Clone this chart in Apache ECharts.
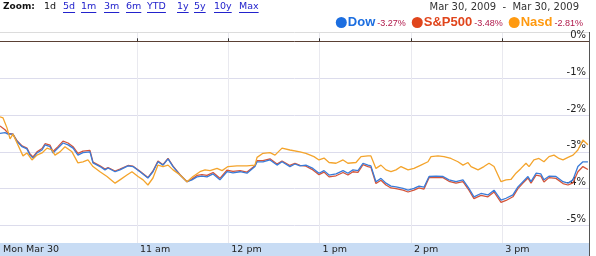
<!DOCTYPE html>
<html><head><meta charset="utf-8">
<script src="https://cdn.jsdelivr.net/npm/echarts@6/dist/echarts.min.js"></script>
<style>html,body{margin:0;padding:0;background:#fff}#c{width:596px;height:256px}</style>
</head><body><div id="c"></div>
<script>
// minutes since 9:30 open
const times = [0,3.3,5.3,8.5,11.2,14.5,17.7,19.7,21.7,24.3,27.6,29.6,32.9,34.8,38.1,41.4,44.7,48,51.2,54.5,59.1,61.1,65.7,69,71,75.6,78.8,84.1,87.4,92,97.2,100.5,103.8,107.1,110.4,113.7,118.3,122.9,126.1,129.4,132.7,136,140,144.5,149.1,153.1,157.7,162.3,167.5,168.9,172.8,177.4,182,185.3,190.5,193.8,197.1,201,205.6,209.6,212.9,216.2,220.8,225.4,228.6,231.9,235.2,238.5,241.8,243.7,247,250.3,253.6,256.9,260.2,264.8,268.1,272,275.3,278.6,281.9,286.5,291.1,295,299.6,304.2,308.1,311.4,316,320.6,324.6,329.2,332.5,337,340.3,343.6,346.9,348.9,352.2,355.4,357.4,360.7,365.3,369.9,373.2,376.5,379.7,383,386.3];
const dow = [-2.50,-2.48,-2.52,-2.52,-2.72,-2.86,-2.92,-3.09,-3.17,-3.03,-2.95,-2.81,-2.86,-3.03,-2.90,-2.76,-2.81,-2.90,-3.09,-3.02,-3.00,-3.30,-3.40,-3.49,-3.44,-3.54,-3.49,-3.38,-3.40,-3.54,-3.71,-3.54,-3.27,-3.36,-3.19,-3.40,-3.63,-3.81,-3.76,-3.68,-3.66,-3.68,-3.60,-3.76,-3.54,-3.57,-3.54,-3.58,-3.40,-3.27,-3.27,-3.22,-3.36,-3.27,-3.40,-3.33,-3.38,-3.36,-3.45,-3.58,-3.51,-3.63,-3.60,-3.51,-3.58,-3.49,-3.51,-3.31,-3.36,-3.38,-3.81,-3.72,-3.85,-3.93,-3.95,-3.99,-4.04,-3.99,-3.93,-3.96,-3.67,-3.66,-3.67,-3.76,-3.81,-3.76,-3.99,-4.22,-4.13,-4.17,-4.04,-4.31,-4.26,-4.17,-3.95,-3.81,-3.67,-3.81,-3.58,-3.60,-3.76,-3.66,-3.67,-3.81,-3.85,-3.76,-3.40,-3.27,-3.27];
const sp = [-2.30,-2.40,-2.50,-2.52,-2.70,-2.84,-2.90,-3.06,-3.14,-3.00,-2.91,-2.78,-2.82,-2.99,-2.86,-2.71,-2.76,-2.86,-3.04,-2.98,-2.96,-3.28,-3.38,-3.47,-3.43,-3.52,-3.47,-3.37,-3.39,-3.53,-3.70,-3.52,-3.25,-3.35,-3.18,-3.39,-3.62,-3.81,-3.74,-3.64,-3.62,-3.64,-3.56,-3.72,-3.50,-3.53,-3.51,-3.55,-3.38,-3.24,-3.24,-3.19,-3.33,-3.25,-3.37,-3.31,-3.37,-3.39,-3.49,-3.62,-3.55,-3.68,-3.65,-3.56,-3.63,-3.54,-3.56,-3.35,-3.40,-3.42,-3.86,-3.77,-3.90,-3.98,-4.00,-4.04,-4.09,-4.04,-3.98,-4.01,-3.70,-3.69,-3.70,-3.80,-3.85,-3.81,-4.04,-4.27,-4.18,-4.22,-4.09,-4.37,-4.32,-4.22,-4.00,-3.85,-3.71,-3.85,-3.63,-3.66,-3.82,-3.70,-3.72,-3.86,-3.90,-3.84,-3.54,-3.40,-3.48];
const nasdTimes = [0,2,4.6,6.6,8.5,11.2,15.1,17.7,21,24.3,27.6,30.9,34.2,36.1,39.4,42.7,47.3,51.2,54.5,57.8,61.1,65.7,70.3,75.6,78.8,83.4,86.7,90.7,94,97.2,100.5,103.8,107.1,110.4,113.7,118.3,122.9,126.8,131.4,134.7,138,142.6,145.9,149.8,155.7,162.3,167.5,168.9,172.8,177.4,180.7,185.3,190.5,197.1,201,206.3,209.6,212.9,216.2,220.8,225.4,228.6,233.9,237.2,241.8,243.7,247,250.3,253.6,256.9,260.2,263.5,268.1,272,276.6,281.2,283.2,287.8,291.7,296.3,300.9,304.2,307.5,309.5,314.1,318,321.3,324.6,329.2,332.5,335.7,339,342.3,345.6,347.6,350.8,354.1,357.4,360.7,364,367.3,369.9,373.2,376.5,379.7,383,386.3];
const nasd = [-2.05,-2.08,-2.35,-2.65,-2.52,-2.76,-3.11,-3.03,-3.22,-3.09,-3.03,-2.90,-2.95,-3.09,-3.00,-2.86,-3.00,-3.30,-3.27,-3.22,-3.40,-3.54,-3.67,-3.85,-3.76,-3.63,-3.54,-3.67,-3.76,-3.90,-3.71,-3.36,-3.40,-3.36,-3.49,-3.63,-3.81,-3.67,-3.54,-3.49,-3.51,-3.45,-3.51,-3.40,-3.38,-3.38,-3.36,-3.15,-3.04,-3.02,-3.09,-2.90,-2.95,-3.00,-3.04,-3.13,-3.22,-3.17,-3.29,-3.31,-3.22,-3.31,-3.29,-3.13,-3.11,-3.11,-3.45,-3.36,-3.49,-3.54,-3.49,-3.40,-3.49,-3.45,-3.36,-3.27,-3.13,-3.11,-3.13,-3.18,-3.27,-3.36,-3.29,-3.40,-3.49,-3.40,-3.31,-3.40,-3.81,-3.76,-3.75,-3.58,-3.45,-3.31,-3.40,-3.22,-3.18,-3.27,-3.13,-3.09,-3.18,-3.22,-3.15,-3.09,-2.95,-2.68,-2.81];
const seriesNames = ['Dow','S&P500','Nasd'];
const changes = [-3.27,-3.48,-2.81];
const xTickValues = [0,90,150,210,270,330];
const xTickLabels = ['Mon Mar 30','11 am','12 pm','1 pm','2 pm','3 pm'];
const yTickValues = [0,-1,-2,-3,-4,-5];
const zoomLinks = ['1d','5d','1m','3m','6m','YTD','1y','5y','10y','Max'];
const dateRange = 'Mar 30, 2009  -  Mar 30, 2009';

const colors = ['#3a7bd8','#d4553a','#f4a42c'];
const legendColors = ['#1c6ee0','#e0451c','#ff9a10'];

const chart = echarts.init(document.getElementById('c'), null, {renderer:'canvas'});

// header graphics
const linkX = [44,63,81,104,126,147,177,194,214,239];
const ctx = document.createElement('canvas').getContext('2d');
ctx.font = '9.5px "DejaVu Sans"';
const graphic = [
  {type:'rect', shape:{x:0,y:243,width:589,height:13}, style:{fill:'#c8dcf4'}, z:0, silent:true},
  {type:'line', shape:{x1:589.5,y1:32,x2:589.5,y2:256}, style:{stroke:'#555',lineWidth:1}, z:10},
  {type:'text', x:3, y:2, style:{text:'Zoom:', font:'bold 9px "DejaVu Sans"', fill:'#111'}},
  {type:'text', x:579, y:2, style:{text:dateRange, font:'10px "DejaVu Sans"', fill:'#333', align:'right'}}
];
zoomLinks.forEach((t,i)=>{
  const isCur = i===0;
  graphic.push({type:'text', x:linkX[i], y:2, style:{text:t, font:'9.5px "DejaVu Sans"', fill: isCur ? '#111' : '#2222cc'}});
  if(!isCur){
    const w = ctx.measureText(t).width;
    graphic.push({type:'line', shape:{x1:linkX[i], y1:12.5, x2:linkX[i]+w, y2:12.5}, style:{stroke:'#2222cc', lineWidth:1}});
  }
});

const rich = {
  n0:{fontFamily:'Liberation Sans', fontWeight:'bold', fontSize:13, color:legendColors[0]},
  n1:{fontFamily:'Liberation Sans', fontWeight:'bold', fontSize:13, color:legendColors[1]},
  n2:{fontFamily:'Liberation Sans', fontWeight:'bold', fontSize:13, color:legendColors[2]},
  p:{fontFamily:'Liberation Sans', fontSize:9, color:'#b0184a', padding:[2,0,0,2]}
};

function mk(name, tArr, vArr, color, extra){
  return Object.assign({
    name, type:'line', data: tArr.map((t,i)=>[t, vArr[i]]),
    symbol:'none', showSymbol:false, animation:false,
    lineStyle:{color, width:1.3}, itemStyle:{color:legendColors[seriesNames.indexOf(name)]}
  }, extra||{});
}

chart.setOption({
  animation:false,
  graphic,
  grid:{left:0, right:7, top:32, bottom:13, outerBoundsMode:'none', containLabel:false},
  legend:{
    data: seriesNames, right:8, top:11, icon:'circle', itemWidth:11, itemHeight:11, itemGap:6,
    selectedMode:false,
    formatter: name => { const i = seriesNames.indexOf(name); return '{n'+i+'|'+name+'}{p|'+changes[i].toFixed(2)+'%}'; },
    textStyle:{rich, padding:[0,0,0,-4]}
  },
  xAxis:[{
    type:'value', min:0, max:387, position:'bottom',
    axisLine:{show:false},
    axisTick:{show:true, inside:true, length:3, lineStyle:{color:'#333'}, customValues: xTickValues.slice(1)},
    axisLabel:{customValues: xTickValues, formatter: v => xTickLabels[xTickValues.indexOf(v)] || '',
      align:'left', verticalAlign:'top', margin:2, padding:[0,0,0,3], color:'#222', fontFamily:'DejaVu Sans', fontSize:9.5},
    splitLine:{show:true, lineStyle:{color:'#e9e9ef', width:1}}
  },{
    type:'value', min:0, max:387, position:'top',
    axisLine:{show:true, lineStyle:{color:'#dcdcdc'}}, axisTick:{show:false}, axisLabel:{show:false}, splitLine:{show:false}
  }],
  yAxis:{
    type:'value', min:-5.474, max:0.252, position:'right',
    axisLine:{show:false}, axisTick:{show:false, customValues:yTickValues},
    axisLabel:{customValues:yTickValues, inside:true, formatter: v => v + '%', verticalAlign:'bottom', margin:3,
      color:'#222', fontFamily:'DejaVu Sans', fontSize:10, padding:[0,0,1,0]},
    splitLine:{show:true, lineStyle:{color:'#dcdcec', width:1}}
  },
  series:[
    mk('S&P500', times, sp, colors[1], {markLine:{silent:true, symbol:'none', label:{show:false}, animation:false,
      lineStyle:{color:'#5a4034', width:1, type:'solid'}, data:[{yAxis:0}]}}),
    mk('Dow', times, dow, colors[0]),
    mk('Nasd', nasdTimes, nasd, colors[2])
  ]
});
</script></body></html>
